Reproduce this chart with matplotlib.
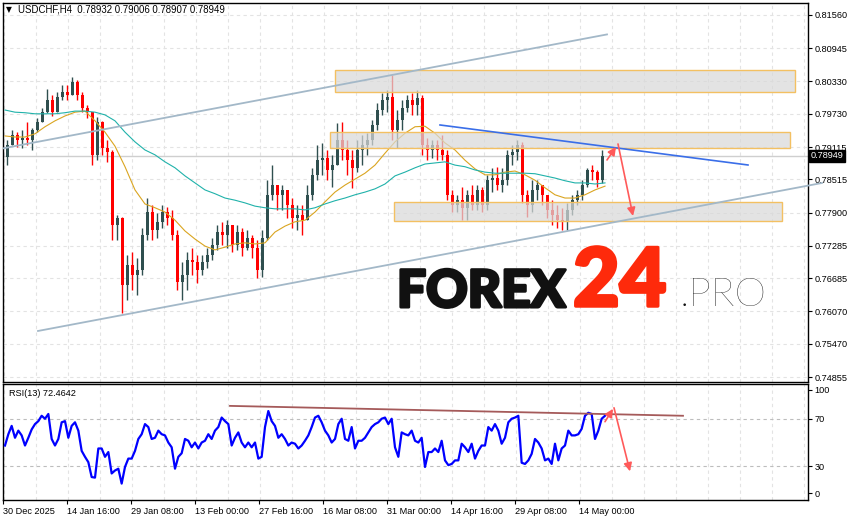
import numpy as np
import matplotlib.pyplot as plt
import matplotlib.transforms as mtransforms
import matplotlib.patheffects as pe
from matplotlib.patches import Rectangle

plt.rcParams['font.family'] = ['Liberation Sans', 'DejaVu Sans']

# USDCHF H4 - one drawn candle stands for 5 H4 bars
first_open = 0.7893
highs = [0.7925, 0.7943, 0.7939, 0.7943, 0.7958, 0.7947, 0.7965, 0.7984, 0.8019, 0.8008,
         0.8013, 0.8026, 0.8026, 0.8041, 0.8036, 0.8013, 0.7989, 0.7976, 0.7967, 0.7960,
         0.7925, 0.7906, 0.7786, 0.7782, 0.7712, 0.7717, 0.7706, 0.7762, 0.7817, 0.7804,
         0.7789, 0.7804, 0.7800, 0.7795, 0.7758, 0.7699, 0.7717, 0.7724, 0.7712, 0.7712,
         0.7724, 0.7743, 0.7767, 0.7773, 0.7776, 0.7767, 0.7767, 0.7762, 0.7758, 0.7749,
         0.7739, 0.7758, 0.7850, 0.7878, 0.7841, 0.7841, 0.7832, 0.7817, 0.7804, 0.7804,
         0.7841, 0.7873, 0.7915, 0.7919, 0.7906, 0.7897, 0.7956, 0.7958, 0.7925, 0.7906,
         0.7925, 0.7934, 0.7937, 0.7962, 0.7993, 0.8012, 0.8017, 0.8045, 0.7980, 0.7999,
         0.8008, 0.8012, 0.8017, 0.8008, 0.7928, 0.7925, 0.7925, 0.7934, 0.7906, 0.7832,
         0.7823, 0.7837, 0.7832, 0.7841, 0.7841, 0.7837, 0.7860, 0.7873, 0.7875, 0.7873,
         0.7906, 0.7915, 0.7925, 0.7921, 0.7832, 0.7850, 0.7850, 0.7841, 0.7823, 0.7813,
         0.7804, 0.7799, 0.7808, 0.7823, 0.7832, 0.7850, 0.7872, 0.7878, 0.7869, 0.7906]
lows = [0.7878, 0.7915, 0.7912, 0.7910, 0.7915, 0.7906, 0.7939, 0.7958, 0.7975, 0.7969,
        0.7976, 0.7999, 0.7999, 0.8008, 0.7999, 0.7976, 0.7965, 0.7878, 0.7887, 0.7897,
        0.7884, 0.7739, 0.7739, 0.7604, 0.7628, 0.7647, 0.7637, 0.7674, 0.7739, 0.7739,
        0.7743, 0.7762, 0.7767, 0.7739, 0.7647, 0.7628, 0.7647, 0.7674, 0.7660, 0.7674,
        0.7687, 0.7702, 0.7721, 0.7730, 0.7724, 0.7717, 0.7721, 0.7710, 0.7721, 0.7706,
        0.7669, 0.7671, 0.7739, 0.7813, 0.7795, 0.7795, 0.7780, 0.7762, 0.7758, 0.7749,
        0.7776, 0.7813, 0.7850, 0.7860, 0.7850, 0.7837, 0.7878, 0.7887, 0.7860, 0.7836,
        0.7865, 0.7878, 0.7897, 0.7915, 0.7943, 0.7971, 0.7976, 0.7925, 0.7910, 0.7943,
        0.7976, 0.7971, 0.7971, 0.7897, 0.7887, 0.7891, 0.7887, 0.7887, 0.7813, 0.7791,
        0.7791, 0.7776, 0.7776, 0.7795, 0.7795, 0.7791, 0.7795, 0.7828, 0.7832, 0.7828,
        0.7841, 0.7878, 0.7887, 0.7808, 0.7782, 0.7791, 0.7813, 0.7804, 0.7780, 0.7767,
        0.7762, 0.7758, 0.7758, 0.7786, 0.7804, 0.7813, 0.7838, 0.7850, 0.7837, 0.7845]
closes = [0.7915, 0.7934, 0.7925, 0.7928, 0.7925, 0.7943, 0.7958, 0.7976, 0.7999, 0.7976,
          0.8004, 0.8013, 0.8008, 0.8032, 0.8008, 0.7984, 0.7976, 0.7897, 0.7958, 0.7910,
          0.7902, 0.7767, 0.7780, 0.7656, 0.7693, 0.7674, 0.7684, 0.7749, 0.7791, 0.7758,
          0.7773, 0.7791, 0.7780, 0.7749, 0.7661, 0.7674, 0.7702, 0.7699, 0.7684, 0.7699,
          0.7712, 0.7730, 0.7754, 0.7749, 0.7767, 0.7730, 0.7754, 0.7724, 0.7743, 0.7724,
          0.7684, 0.7743, 0.7823, 0.7841, 0.7823, 0.7832, 0.7804, 0.7780, 0.7786, 0.7776,
          0.7823, 0.7860, 0.7887, 0.7891, 0.7869, 0.7878, 0.7925, 0.7906, 0.7887, 0.7873,
          0.7906, 0.7915, 0.7925, 0.7952, 0.7980, 0.7999, 0.8004, 0.7943, 0.7962, 0.7984,
          0.7999, 0.7989, 0.8002, 0.7915, 0.7906, 0.7915, 0.7906, 0.7897, 0.7823, 0.7804,
          0.7813, 0.7799, 0.7823, 0.7804, 0.7832, 0.7804, 0.7850, 0.7854, 0.7841, 0.7850,
          0.7897, 0.7902, 0.7915, 0.7823, 0.7804, 0.7832, 0.7841, 0.7823, 0.7795, 0.7786,
          0.7776, 0.7773, 0.7795, 0.7813, 0.7823, 0.7841, 0.7869, 0.7865, 0.7850, 0.78949]

# moving averages, one value every 10 H4 bars
ma_fast = [0.7932, 0.7930, 0.7930, 0.7936, 0.7949, 0.7960, 0.7969, 0.7976, 0.7978, 0.7960,
           0.7939, 0.7913, 0.7875, 0.7832, 0.7806, 0.7799, 0.7791, 0.7776, 0.7756, 0.7741,
           0.7728, 0.7721, 0.7726, 0.7732, 0.7734, 0.7732, 0.7734, 0.7754, 0.7765, 0.7773,
           0.7776, 0.7791, 0.7810, 0.7828, 0.7841, 0.7852, 0.7863, 0.7878, 0.7900, 0.7921,
           0.7937, 0.7949, 0.7950, 0.7937, 0.7919, 0.7906, 0.7887, 0.7871, 0.7860, 0.7860,
           0.7865, 0.7867, 0.7860, 0.7850, 0.7836, 0.7823, 0.7817, 0.7817, 0.7823, 0.7832,
           0.7839]
ma_slow = [0.7980, 0.7976, 0.7975, 0.7973, 0.7973, 0.7973, 0.7975, 0.7978, 0.7978, 0.7976,
           0.7971, 0.7960, 0.7939, 0.7921, 0.7906, 0.7897, 0.7884, 0.7873, 0.7858, 0.7845,
           0.7832, 0.7825, 0.7817, 0.7813, 0.7808, 0.7802, 0.7799, 0.7797, 0.7797, 0.7797,
           0.7795, 0.7799, 0.7806, 0.7812, 0.7817, 0.7823, 0.7828, 0.7834, 0.7843, 0.7858,
           0.7865, 0.7873, 0.7880, 0.7882, 0.7884, 0.7878, 0.7875, 0.7869, 0.7865, 0.7863,
           0.7863, 0.7863, 0.7863, 0.7862, 0.7858, 0.7854, 0.7849, 0.7845, 0.7845, 0.7843,
           0.7845]

# RSI(13), one value every 10/3 H4 bars
rsi = [47.5, 57, 64, 54, 60, 56, 47.5, 54, 61, 65.5,
       68, 72.5, 70, 74, 53, 47.5, 53, 67, 68, 54,
       64, 67, 60, 43, 38, 33.5, 21, 20.5, 45, 45,
       38, 42, 24, 26.5, 28, 15.5, 29.5, 36.5, 36.5, 43,
       53, 57, 65.5, 63, 53, 54, 60, 57, 56, 50,
       46, 28, 38, 41, 53, 51.5, 46, 50, 45, 50,
       51.5, 57, 53, 60, 63, 71, 68, 65.5, 47.5, 54,
       58.5, 50, 46, 50, 46, 50, 36.5, 38, 63, 76.5,
       68, 64, 54, 57, 53, 47.5, 50, 49, 45, 47.5,
       51.5, 56, 63, 71, 72.5, 67, 60, 56, 50, 53,
       65.5, 70, 53, 51.5, 63, 45, 51.5, 51.5, 54, 58.5,
       63, 65.5, 67, 70, 71, 65.5, 70, 46, 38, 58.5,
       57, 56, 60, 51.5, 50, 54, 29.5, 42,
       42, 45, 42, 51.5, 35, 31, 32, 35, 35, 49,
       46, 42, 49, 36.5, 43, 47.5, 47.5, 63, 60, 65.5,
       60, 49, 54, 67, 70, 71, 72.5, 33, 32, 35,
       40.5, 53, 50, 45, 35, 36.5, 32, 49, 35, 45,
       47.5, 60, 56, 56, 57, 61.5, 72.5, 75, 74, 53,
       60, 70, 72.5]

price_ticks = [0.81560, 0.80945, 0.80330, 0.79730, 0.79115, 0.78515,
               0.77900, 0.77285, 0.76685, 0.76070, 0.75470, 0.74855]
date_labels = ['30 Dec 2025', '14 Jan 16:00', '29 Jan 08:00', '13 Feb 00:00',
               '27 Feb 16:00', '16 Mar 08:00', '31 Mar 00:00', '14 Apr 16:00',
               '29 Apr 08:00', '14 May 00:00']
last_bar = '0.78932 0.79006 0.78907 0.78949'
last_price = 0.78949
rsi_last = 72.4642

# support / resistance zones: (start bar, end bar, low, high)
zones = [(330, 790, 0.80134, 0.80542),
         (325, 785, 0.79097, 0.79393),
         (389, 777, 0.77745, 0.78097)]

W, H = 854, 521
fig = plt.figure(figsize=(W / 100, H / 100), dpi=100)
ax = fig.add_axes([3 / W, 1 - 382 / H, 805 / W, 379 / H])
ax2 = fig.add_axes([3 / W, 1 - 500 / H, 805 / W, 116 / H])

for a in (ax, ax2):
    a.set_xlim(-2, 803)
    for s in a.spines.values():
        s.set_color('black')
        s.set_linewidth(1.0)
    for g in range(-1, 803, 32):
        a.axvline(g, color='#e3e3e3', lw=0.8, ls=(0, (3, 3)), zorder=0)

ax.set_ylim(0.74763, 0.81782)
ax2.set_ylim(1.7, 99.2)

for p in price_ticks:
    ax.axhline(p, color='#e3e3e3', lw=0.8, ls=(0, (3, 3)), zorder=0)
ax.axhline(last_price, color='#cfcfcf', lw=1.0, zorder=1)

# candles
n = len(closes)
t = np.arange(n) * 5 + 2.5
opens = [first_open] + closes[:-1]
cols = ['#2f4f4f' if c >= o else '#ff0000' for o, c in zip(opens, closes)]
ax.vlines(t, lows, highs, colors=cols, lw=1.0, zorder=3)
bodies = [max(abs(c - o), 0.00004) for o, c in zip(opens, closes)]
ax.bar(t, bodies, bottom=np.minimum(opens, closes), width=3.8, color=cols, lw=0, zorder=3)

# moving averages
ax.plot(np.arange(len(ma_fast)) * 10, ma_fast, color='#daa520', lw=0.8, zorder=4)
ax.plot(np.arange(len(ma_slow)) * 10, ma_slow, color='#20b2aa', lw=0.8, zorder=4)

# zones
for x0, x1, lo, hi in zones:
    ax.add_patch(Rectangle((x0, lo), x1 - x0, hi - lo, facecolor='#d9d9d9', alpha=0.72,
                           edgecolor='none', zorder=5))
    ax.add_patch(Rectangle((x0, lo), x1 - x0, hi - lo, facecolor='none',
                           edgecolor='#f3c062', lw=1.0, zorder=5))

# trend lines
ax.plot([-2, 602], [0.7909, 0.8120], color='#a3b8c8', lw=1.3, zorder=6)
ax.plot([33, 817], [0.75708, 0.78449], color='#a3b8c8', lw=1.3, zorder=6, clip_on=False)
ax.plot([435, 743], [0.79523, 0.78782], color='#3a6ee8', lw=1.2, zorder=6)

arrow = dict(arrowstyle='-|>', color='#ff5a5a', lw=1.2, mutation_scale=12, shrinkA=0, shrinkB=0)
ax.annotate('', xy=(611, 0.79116), xytext=(602, 0.78875), arrowprops=arrow, zorder=7)
ax.annotate('', xy=(628, 0.77838), xytext=(613, 0.79171), arrowprops=arrow, zorder=7)

# axes ticks
ax.yaxis.tick_right()
ax.set_yticks(price_ticks)
ax.set_yticklabels([f'{p:.5f}' for p in price_ticks])
ax.tick_params(axis='y', length=3, width=0.8, pad=1.5, labelsize=6.6)
ax.set_xticks([])

trans = mtransforms.blended_transform_factory(ax.transAxes, ax.transData)
ax.text(1.003, last_price, f'{last_price:.5f}', transform=trans, ha='left', va='center',
        fontsize=6.6, color='white', zorder=10,
        bbox=dict(facecolor='black', edgecolor='black', pad=1.2), clip_on=False)

fig.text(6 / W, 1 - 10 / H, '▼', fontsize=5.5, va='center', ha='left', family='DejaVu Sans')
fig.text(18 / W, 1 - 10 / H, 'USDCHF,H4  ' + last_bar, fontsize=6.9, va='center', ha='left')

# watermark
heavy = [pe.withStroke(linewidth=2.2, foreground='#111111')]
fig.text(397 / W, 1 - 307 / H, 'FOREX', fontsize=37, family='Lato', fontweight='black',
         color='#111111', va='baseline', ha='left', path_effects=heavy)
fig.text(573 / W, 1 - 306 / H, '24', fontsize=58, family='Lato', fontweight='black',
         color='#fe2a0b', va='baseline', ha='left',
         path_effects=[pe.withStroke(linewidth=2.5, foreground='#fe2a0b')])
fig.text(680 / W, 1 - 306 / H, '.PRO', fontsize=29, family='Lato', fontweight='light',
         color='#111111', va='baseline', ha='left')

# RSI panel
ax2.axhline(70, color='#bdbdbd', lw=0.8, ls=(0, (3, 3)), zorder=1)
ax2.axhline(30, color='#bdbdbd', lw=0.8, ls=(0, (3, 3)), zorder=1)
ax2.plot(np.arange(len(rsi)) * 10 / 3, rsi, color='#0000ff', lw=1.6, zorder=3)
ax2.plot([225, 678], [80.8, 72.5], color='#a55a5a', lw=1.3, zorder=4)
ax2.annotate('', xy=(608, 78.3), xytext=(600, 67.5), arrowprops=arrow, zorder=7)
ax2.annotate('', xy=(625, 25.8), xytext=(609, 79.2), arrowprops=arrow, zorder=7)
ax2.text(4, 91, f'RSI(13) {rsi_last:.4f}', fontsize=6.6, va='center', ha='left')

ax2.yaxis.tick_right()
ax2.set_yticks([94.2, 70, 30, 7.5])
ax2.set_yticklabels(['100', '70', '30', '0'])
ax2.tick_params(axis='y', length=3, width=0.8, pad=1.5, labelsize=6.6)
ax2.set_xticks([-2 + 64 * j for j in range(len(date_labels))])
ax2.set_xticklabels(date_labels, ha='left')
ax2.tick_params(axis='x', length=3, width=0.8, pad=2, labelsize=6.6)

fig.savefig('out.png', dpi=100)
